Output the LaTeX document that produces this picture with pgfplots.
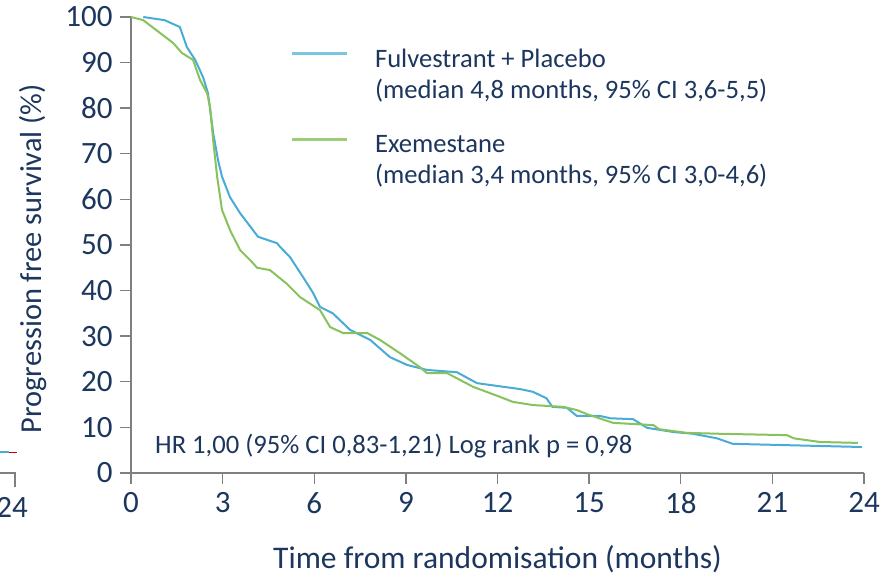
\documentclass[border=0pt]{standalone}
\usepackage{pgfplots}
\pgfplotsset{compat=1.18}
\usepackage{fontspec}
\setmainfont{Carlito}
\definecolor{navy}{RGB}{28,54,94}
\definecolor{kmblue}{RGB}{72,172,214}
\definecolor{kmgreen}{RGB}{136,194,92}
\definecolor{kmblueL}{RGB}{122,198,226}
\definecolor{kmgreenL}{RGB}{156,206,122}
\definecolor{axgray}{RGB}{128,128,128}
\begin{document}
\begin{tikzpicture}
\begin{axis}[
  scale only axis,
  width=733pt, height=456pt,
  xmin=0, xmax=24, ymin=0, ymax=100,
  axis lines=left,
  axis line style={-, draw=axgray, line width=1.4pt},
  tick style={draw=axgray, line width=1.4pt},
  tick align=outside,
  major tick length=11pt,
  xtick={0,3,...,24},
  ytick={0,10,...,100},
  /pgf/number format/assume math mode=true,
  tick label style={font=\fontsize{31}{36}\selectfont, text=navy},
  xticklabel style={yshift=-5pt},
  yticklabel style={xshift=-4pt},
  xlabel={Time from randomisation (months)},
  ylabel={Progression free survival (\%)},
  xlabel style={font=\fontsize{31.5}{36}\selectfont, text=navy, at={(axis description cs:0.5,-0.19)}, anchor=center},
  ylabel style={font=\fontsize{30.4}{35}\selectfont, text=navy, at={(axis description cs:-0.1337,0.470)}, anchor=center},
  legend style={draw=none, fill=none, at={(axis description cs:0.217,0.937)}, anchor=north west,
    font=\fontsize{26.6}{31}\selectfont, text=navy, inner sep=0pt, outer sep=0pt,
    row sep=62pt, column sep=0pt, nodes={inner sep=0pt, outer sep=0pt}, cells={anchor=base west}},
  legend image code/.code={\draw[#1] (0pt,13.5pt) -- (55pt,13.5pt); \path (82pt,0pt);},
]
\addplot[kmblue, line width=2pt, forget plot] coordinates {
(0.4,100) (1.1,99.3) (1.6,97.8) (1.83,93.4) (2.1,90.6) (2.36,86.8) (2.52,83.3) (2.69,74.6)
(2.85,68.6) (2.98,65) (3.24,60.5) (3.57,57) (4.16,51.8) (4.78,50.4) (4.88,49.6) (5.2,47.4)
(5.63,43) (5.96,39.5) (6.19,36.4) (6.61,35) (7.17,31.4) (7.83,29.2) (8.48,25.4) (9.04,23.7)
(9.69,22.6) (10.67,22.1) (11.33,19.7) (12.74,18.4) (13.16,17.8) (13.6,16.4) (13.8,14.5)
(14.27,14.3) (14.6,12.5) (15.36,12.5) (15.7,12) (16.44,11.8) (16.9,9.9) (17.75,9.0)
(18.4,8.6) (19.19,7.6) (19.7,6.4) (21.48,6.1) (23.93,5.7)
};
\addplot[kmgreen, line width=2pt, forget plot] coordinates {
(0,100) (0.4,99.3) (0.95,96.5) (1.38,94.3) (1.67,92.1) (2.03,90.6) (2.26,86.2) (2.49,83.3)
(2.59,80.3) (2.69,73) (2.82,65) (2.98,57.7) (3.24,53.3) (3.57,48.9) (3.9,46.7) (4.13,45)
(4.55,44.5) (5.1,41.5) (5.53,38.6) (6.19,35.7) (6.52,32) (6.94,30.7) (7.73,30.7) (8.15,29.2)
(8.8,26.3) (9.46,23.2) (9.69,21.9) (10.35,21.9) (11.2,18.9) (12.08,16.7) (12.5,15.6)
(13.16,14.9) (14.15,14.5) (14.6,13.8) (14.93,12.9) (15.78,11) (17.1,10.5) (17.3,9.6)
(18.2,8.8) (19.29,8.6) (21.48,8.3) (21.7,7.6) (22.56,6.8) (23.8,6.6)
};
\addlegendimage{kmblueL, line width=3pt}
\addlegendentry{\begin{tabular}[t]{@{}l@{}}Fulvestrant + Placebo\\(median 4,8 months, 95\% CI 3,6-5,5)\end{tabular}}
\addlegendimage{kmgreenL, line width=3pt}
\addlegendentry{\begin{tabular}[t]{@{}l@{}}Exemestane\\(median 3,4 months, 95\% CI 3,0-4,6)\end{tabular}}
\node[anchor=base west, inner sep=0pt, text=navy, font=\fontsize{26.6}{31}\selectfont] at (axis cs:0.786,4.2) {HR 1,00 (95\% CI 0,83-1,21) Log rank p = 0,98};
\end{axis}
% fragment of neighbouring chart at the left edge
\draw[axgray, line width=1.4pt] (-135pt,0pt) -- (-116pt,0pt) -- (-116pt,-14pt);
\draw[kmblue, line width=1.5pt] (-135pt,21pt) -- (-122pt,21pt);
\draw[red!80!black, line width=1.5pt] (-122pt,20.5pt) -- (-114pt,20.5pt);
\node[text=navy, font=\fontsize{31}{36}\selectfont, inner sep=0pt] at (-119pt,-34pt) {24};
\pgfresetboundingbox
\path (-131pt,-104pt) rectangle (762pt,473pt);
\end{tikzpicture}
\end{document}
